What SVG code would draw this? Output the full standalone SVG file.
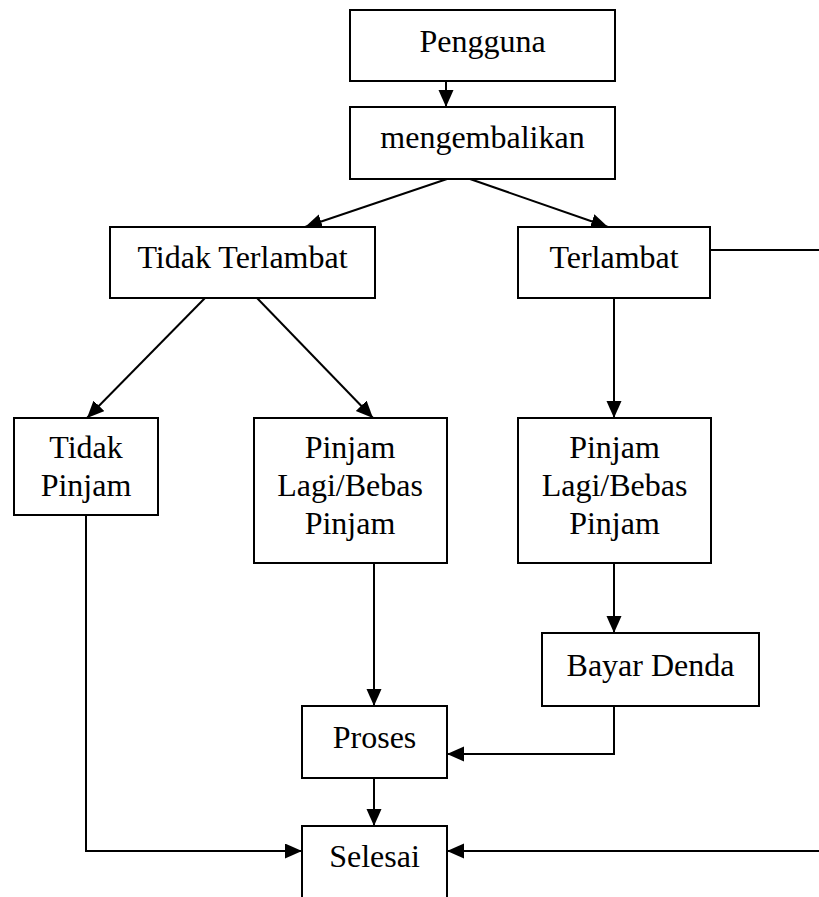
<svg xmlns="http://www.w3.org/2000/svg" width="819" height="897" viewBox="0 0 819 897">
<style>
.box{fill:#fff;stroke:#000;stroke-width:2}
.t{font-family:"Liberation Serif","Times New Roman",serif;font-size:32px;fill:#000;text-anchor:middle}
.c{fill:none;stroke:#000;stroke-width:2}
</style>
<defs>
<marker id="ah" markerUnits="userSpaceOnUse" markerWidth="18" markerHeight="16" refX="17" refY="7.5" orient="auto">
<path d="M0,0 L17,7.5 L0,15 z" fill="#000"/>
</marker>
</defs>
<rect width="819" height="897" fill="#fff"/>
<g id="connectors">
<line class="c" x1="446" y1="81" x2="446" y2="107" marker-end="url(#ah)"/>
<line class="c" x1="447" y1="179" x2="305" y2="227" marker-end="url(#ah)"/>
<line class="c" x1="470" y1="179" x2="608" y2="227" marker-end="url(#ah)"/>
<line class="c" x1="205" y1="298" x2="87" y2="418" marker-end="url(#ah)"/>
<line class="c" x1="257" y1="298" x2="373" y2="418" marker-end="url(#ah)"/>
<line class="c" x1="614" y1="298" x2="614" y2="418" marker-end="url(#ah)"/>
<line class="c" x1="614" y1="563" x2="614" y2="633" marker-end="url(#ah)"/>
<line class="c" x1="374" y1="563" x2="374" y2="706" marker-end="url(#ah)"/>
<polyline class="c" points="614,706 614,754 447,754" marker-end="url(#ah)"/>
<line class="c" x1="374" y1="778" x2="374" y2="826" marker-end="url(#ah)"/>
<polyline class="c" points="86,515 86,851 302,851" marker-end="url(#ah)"/>
<line class="c" x1="710" y1="250" x2="820" y2="250"/>
<line class="c" x1="820" y1="851" x2="447" y2="851" marker-end="url(#ah)"/>
</g>
<g id="pengguna"><rect class="box" x="350" y="10" width="265" height="71"/><text class="t" x="482.5" y="52">Pengguna</text></g>
<g id="mengembalikan"><rect class="box" x="350" y="107" width="265" height="72"/><text class="t" x="482.5" y="148">mengembalikan</text></g>
<g id="tidak-terlambat"><rect class="box" x="110" y="227" width="265" height="71"/><text class="t" x="242.5" y="268">Tidak Terlambat</text></g>
<g id="terlambat"><rect class="box" x="518" y="227" width="192" height="71"/><text class="t" x="614" y="268">Terlambat</text></g>
<g id="tidak-pinjam"><rect class="box" x="14" y="418" width="144" height="97"/><text class="t" x="86" y="458">Tidak</text><text class="t" x="86" y="496">Pinjam</text></g>
<g id="pinjam-lagi-1"><rect class="box" x="254" y="418" width="193" height="145"/><text class="t" x="350" y="458">Pinjam</text><text class="t" x="350" y="496">Lagi/Bebas</text><text class="t" x="350" y="534">Pinjam</text></g>
<g id="pinjam-lagi-2"><rect class="box" x="518" y="418" width="193" height="145"/><text class="t" x="614.5" y="458">Pinjam</text><text class="t" x="614.5" y="496">Lagi/Bebas</text><text class="t" x="614.5" y="534">Pinjam</text></g>
<g id="bayar-denda"><rect class="box" x="542" y="633" width="217" height="73"/><text class="t" x="650.5" y="676">Bayar Denda</text></g>
<g id="proses"><rect class="box" x="302" y="706" width="145" height="72"/><text class="t" x="374.5" y="748">Proses</text></g>
<g id="selesai"><rect class="box" x="302" y="826" width="145" height="90"/><text class="t" x="374.5" y="867">Selesai</text></g>
</svg>
